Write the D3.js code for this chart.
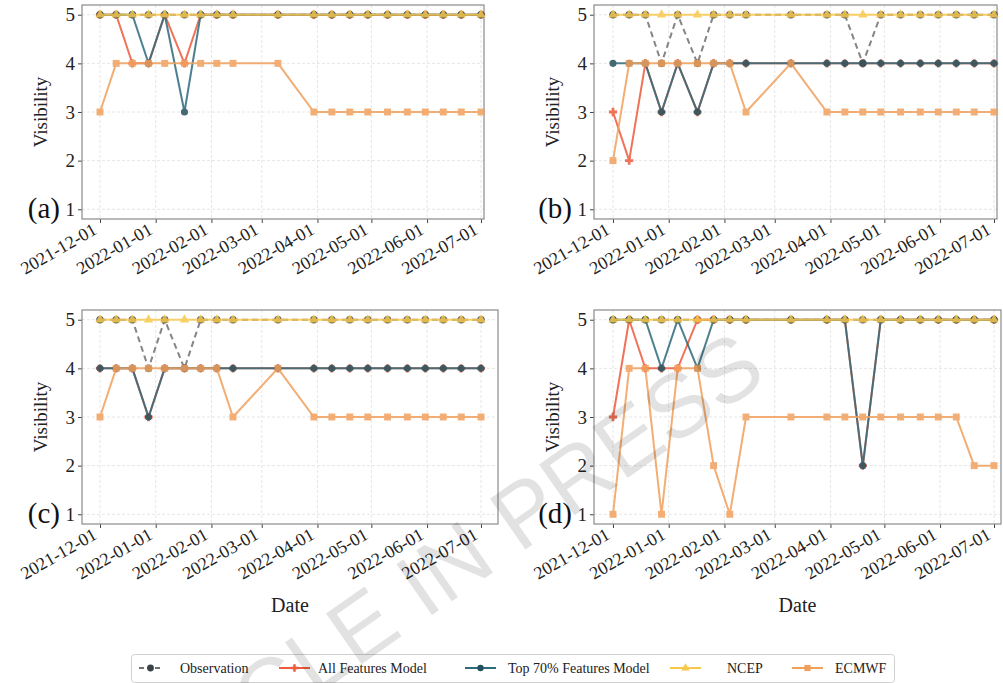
<!DOCTYPE html>
<html>
<head>
<meta charset="utf-8">
<script src="https://cdn.jsdelivr.net/npm/d3@7"></script>
<style>
  body { margin: 0; background: #fff; }
  text { font-family: "Liberation Serif", "Times New Roman", serif; }
</style>
</head>
<body>
<svg id="chart" width="1003" height="683"></svg>
<script>
// sample dates shared by all four panels
var dates = ['2021-12-01', '2021-12-10', '2021-12-19', '2021-12-28', '2022-01-06', '2022-01-17',
    '2022-01-26', '2022-02-04', '2022-02-13', '2022-03-10', '2022-03-30', '2022-04-09',
    '2022-04-19', '2022-04-29', '2022-05-10', '2022-05-21', '2022-05-31', '2022-06-10',
    '2022-06-20', '2022-07-01']
var tickDates = ['2021-12-01', '2022-01-01', '2022-02-01', '2022-03-01', '2022-04-01',
    '2022-05-01', '2022-06-01', '2022-07-01']
var yTicks = [1, 2, 3, 4, 5]
var panelLabels = ['(a)', '(b)', '(c)', '(d)']
var seriesNames = ['Observation', 'All Features Model', 'Top 70% Features Model', 'NCEP', 'ECMWF']

// one list per series, one row per panel (a, b, c, d)
var observation = [
    [5, 5, 5, 5, 5, 5, 5, 5, 5, 5, 5, 5, 5, 5, 5, 5, 5, 5, 5, 5],
    [5, 5, 5, 4, 5, 4, 5, 5, 5, 5, 5, 5, 4, 5, 5, 5, 5, 5, 5, 5],
    [5, 5, 5, 4, 5, 4, 5, 5, 5, 5, 5, 5, 5, 5, 5, 5, 5, 5, 5, 5],
    [5, 5, 5, 5, 5, 5, 5, 5, 5, 5, 5, 5, 5, 5, 5, 5, 5, 5, 5, 5]
]
var allFeatures = [
    [5, 5, 4, 4, 5, 4, 5, 5, 5, 5, 5, 5, 5, 5, 5, 5, 5, 5, 5, 5],
    [3, 2, 4, 3, 4, 3, 4, 4, 4, 4, 4, 4, 4, 4, 4, 4, 4, 4, 4, 4],
    [4, 4, 4, 3, 4, 4, 4, 4, 4, 4, 4, 4, 4, 4, 4, 4, 4, 4, 4, 4],
    [3, 5, 4, 4, 4, 5, 5, 5, 5, 5, 5, 5, 2, 5, 5, 5, 5, 5, 5, 5]
]
var top70 = [
    [5, 5, 5, 4, 5, 3, 5, 5, 5, 5, 5, 5, 5, 5, 5, 5, 5, 5, 5, 5],
    [4, 4, 4, 3, 4, 3, 4, 4, 4, 4, 4, 4, 4, 4, 4, 4, 4, 4, 4, 4],
    [4, 4, 4, 3, 4, 4, 4, 4, 4, 4, 4, 4, 4, 4, 4, 4, 4, 4, 4, 4],
    [5, 5, 5, 4, 5, 4, 5, 5, 5, 5, 5, 5, 2, 5, 5, 5, 5, 5, 5, 5]
]
var ncep = [
    [5, 5, 5, 5, 5, 5, 5, 5, 5, 5, 5, 5, 5, 5, 5, 5, 5, 5, 5, 5],
    [5, 5, 5, 5, 5, 5, 5, 5, 5, 5, 5, 5, 5, 5, 5, 5, 5, 5, 5, 5],
    [5, 5, 5, 5, 5, 5, 5, 5, 5, 5, 5, 5, 5, 5, 5, 5, 5, 5, 5, 5],
    [5, 5, 5, 5, 5, 5, 5, 5, 5, 5, 5, 5, 5, 5, 5, 5, 5, 5, 5, 5]
]
var ecmwf = [
    [3, 4, 4, 4, 4, 4, 4, 4, 4, 4, 3, 3, 3, 3, 3, 3, 3, 3, 3, 3],
    [2, 4, 4, 4, 4, 4, 4, 4, 3, 4, 3, 3, 3, 3, 3, 3, 3, 3, 3, 3],
    [3, 4, 4, 4, 4, 4, 4, 4, 3, 4, 3, 3, 3, 3, 3, 3, 3, 3, 3, 3],
    [1, 4, 4, 1, 4, 4, 2, 1, 3, 3, 3, 3, 3, 3, 3, 3, 3, 3, 2, 2]
]

var parse = d3.timeParse('%Y-%m-%d')
var svg = d3.select('#chart')

var styles = [
    { data: observation, color: '#707070', mark: '#3a4448', symbol: d3.symbolCircle, size: 45, dash: '6,4' },
    { data: allFeatures, color: '#ee5a3c', mark: '#ee5a3c', symbol: d3.symbolCross, size: 38, dash: null },
    { data: top70, color: '#2f6b7c', mark: '#24515e', symbol: d3.symbolCircle, size: 40, dash: null },
    { data: ncep, color: '#f8c84c', mark: '#f8c84c', symbol: d3.symbolTriangle, size: 38, dash: null },
    { data: ecmwf, color: '#f0a05c', mark: '#f0a05c', symbol: d3.symbolSquare, size: 48, dash: null }
]

// plot frames (left, right, top, bottom) and x pixel of first/last tick
var panels = [
    { l: 82, r: 484, t: 5, b: 219, x0: 100, x1: 481 },
    { l: 594, r: 997, t: 5, b: 219, x0: 613, x1: 994 },
    { l: 82, r: 498, t: 310, b: 524, x0: 100, x1: 481 },
    { l: 594, r: 1001, t: 310, b: 524, x0: 613, x1: 994 }
]

panels.forEach(function (p, pi) { drawPanel(p, pi) })

function drawPanel(p, pi) {
    var x = d3.scaleTime()
        .domain([parse(tickDates[0]), parse(tickDates[tickDates.length - 1])])
        .range([p.x0, p.x1])
    var y = d3.scaleLinear().domain([0.8, 5.2]).range([p.b, p.t])
    var g = svg.append('g')

    // grid
    g.selectAll('.gx').data(tickDates).enter().append('line')
        .attr('x1', d => x(parse(d))).attr('x2', d => x(parse(d)))
        .attr('y1', p.t).attr('y2', p.b)
        .attr('stroke', '#e6e6e6').attr('stroke-dasharray', '3,2')
    g.selectAll('.gy').data(yTicks).enter().append('line')
        .attr('x1', p.l).attr('x2', p.r)
        .attr('y1', d => y(d)).attr('y2', d => y(d))
        .attr('stroke', '#e6e6e6').attr('stroke-dasharray', '3,2')

    // axes
    var xa = g.append('g').attr('transform', 'translate(0,' + p.b + ')')
        .call(d3.axisBottom(x).tickValues(tickDates.map(parse)).tickFormat('').tickSizeOuter(0).tickSize(4))
    xa.select('.domain').remove()
    xa.selectAll('line').attr('stroke', '#444')
    g.selectAll('.xl').data(tickDates).enter().append('text')
        .attr('transform', d => 'translate(' + (x(parse(d)) - 2) + ',' + (p.b + 14) + ') rotate(-30)')
        .attr('text-anchor', 'end')
        .attr('font-size', 18)
        .attr('fill', '#222')
        .text(d => d)
    var ya = g.append('g').attr('transform', 'translate(' + p.l + ',0)')
        .call(d3.axisLeft(y).tickValues(yTicks).tickFormat(d3.format('d')).tickSize(4).tickPadding(3))
    ya.select('.domain').remove()
    ya.selectAll('line').attr('stroke', '#444')
    ya.selectAll('text').attr('font-size', 19).attr('fill', '#222')

    g.append('rect').attr('x', p.l).attr('y', p.t)
        .attr('width', p.r - p.l).attr('height', p.b - p.t)
        .attr('fill', 'none').attr('stroke', '#8a8a8a').attr('stroke-width', 1.2)

    g.append('text')
        .attr('transform', 'translate(' + (p.l - 35) + ',' + ((p.t + p.b) / 2) + ') rotate(-90)')
        .attr('text-anchor', 'middle').attr('font-size', 19).attr('fill', '#222')
        .text('Visibility')
    g.append('text')
        .attr('x', p.l - 22).attr('y', y(1) + 9)
        .attr('text-anchor', 'end').attr('font-size', 29).attr('fill', '#111')
        .text(panelLabels[pi])

    if (pi >= 2) {
        g.append('text')
            .attr('x', (p.l + p.r) / 2).attr('y', p.b + 88)
            .attr('text-anchor', 'middle').attr('font-size', 20).attr('fill', '#222')
            .text('Date')
    }

    // series
    var line = d3.line().x((d, i) => x(parse(dates[i]))).y(d => y(d))
    styles.forEach(function (s) {
        var vals = s.data[pi]
        var sg = g.append('g').attr('opacity', 0.85)
        sg.append('path').datum(vals)
            .attr('d', line)
            .attr('fill', 'none')
            .attr('stroke', s.color)
            .attr('stroke-width', 2)
            .attr('stroke-dasharray', s.dash)
        sg.selectAll('path.m').data(vals).enter().append('path')
            .attr('class', 'm')
            .attr('transform', (d, i) => 'translate(' + x(parse(dates[i])) + ',' + y(d) + ')')
            .attr('d', d3.symbol().type(s.symbol).size(s.size))
            .attr('fill', s.mark)
    })
}

// legend
var legendX = [139, 279, 465, 670, 792]
var legendTextX = [180, 318, 508, 727, 835]
var lg = svg.append('g')
lg.append('rect').attr('x', 131.5).attr('y', 654.5).attr('width', 763).attr('height', 28)
    .attr('rx', 3).attr('fill', '#fff').attr('stroke', '#d0d0d0')
styles.forEach(function (s, i) {
    var lw = i === 0 ? 23 : 31
    lg.append('line')
        .attr('x1', legendX[i]).attr('x2', legendX[i] + lw)
        .attr('y1', 668).attr('y2', 668)
        .attr('stroke', s.color).attr('stroke-width', 2)
        .attr('stroke-dasharray', i === 0 ? '5,3' : null)
    lg.append('path')
        .attr('transform', 'translate(' + (legendX[i] + lw / 2) + ',668)')
        .attr('d', d3.symbol().type(s.symbol).size(s.size * 0.8))
        .attr('fill', s.mark)
    lg.append('text')
        .attr('x', legendTextX[i]).attr('y', 673)
        .attr('font-size', 14).attr('fill', '#222')
        .text(seriesNames[i])
})

// watermark over everything
svg.append('text')
    .attr('transform', 'translate(432,615) rotate(-35)')
    .attr('text-anchor', 'middle')
    .style('font-family', '"Liberation Sans", sans-serif')
    .attr('font-size', 90)
    .attr('fill', '#000').attr('opacity', 0.11)
    .text('ARTICLE IN PRESS')
</script>
</body>
</html>
